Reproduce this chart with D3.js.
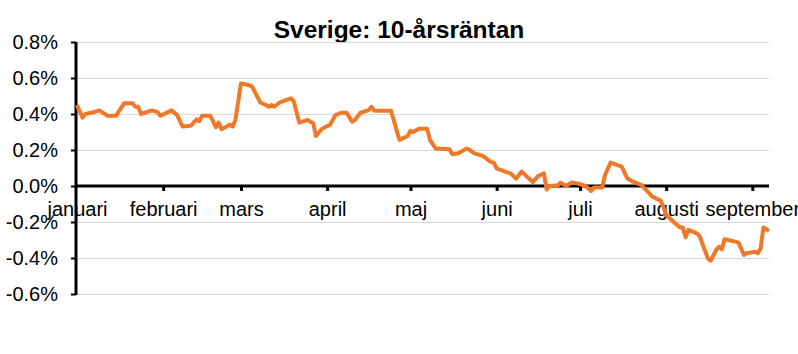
<!DOCTYPE html>
<html>
<head>
<meta charset="utf-8">
<script src="https://cdn.jsdelivr.net/npm/d3@7"></script>
<style>
  body { margin: 0; background: #fff; }
  text { font-family: "Liberation Sans", Arial, sans-serif; }
</style>
</head>
<body>
<div id="chart"></div>
<script>
// Sverige 10-årsränta, 2019 (%)
var dates = [
  "2019-01-01","2019-01-03","2019-01-04","2019-01-07","2019-01-09","2019-01-12","2019-01-15","2019-01-18",
  "2019-01-21","2019-01-22","2019-01-23","2019-01-24","2019-01-28","2019-01-30","2019-01-31","2019-02-04",
  "2019-02-06","2019-02-08","2019-02-11","2019-02-13","2019-02-14","2019-02-15","2019-02-18","2019-02-20",
  "2019-02-21","2019-02-22","2019-02-25","2019-02-26","2019-02-27","2019-03-01","2019-03-04","2019-03-05",
  "2019-03-08","2019-03-10","2019-03-11","2019-03-12","2019-03-13","2019-03-15","2019-03-19","2019-03-20",
  "2019-03-22","2019-03-25","2019-03-27","2019-03-28","2019-03-30","2019-04-01","2019-04-02","2019-04-04",
  "2019-04-06","2019-04-08","2019-04-10","2019-04-11","2019-04-13","2019-04-16","2019-04-17","2019-04-18",
  "2019-04-24","2019-04-27","2019-04-30","2019-05-01","2019-05-02","2019-05-04","2019-05-07","2019-05-08",
  "2019-05-10","2019-05-15","2019-05-16","2019-05-18","2019-05-21","2019-05-22","2019-05-24","2019-05-27",
  "2019-05-30","2019-05-31","2019-06-01","2019-06-05","2019-06-06","2019-06-08","2019-06-10","2019-06-14",
  "2019-06-16","2019-06-18","2019-06-19","2019-06-20","2019-06-23","2019-06-24","2019-06-26","2019-06-28",
  "2019-07-01","2019-07-03","2019-07-05","2019-07-06","2019-07-09","2019-07-10","2019-07-12","2019-07-16",
  "2019-07-18","2019-07-20","2019-07-23","2019-07-25","2019-07-27","2019-07-30","2019-07-31","2019-08-01",
  "2019-08-04","2019-08-06","2019-08-07","2019-08-08","2019-08-09","2019-08-12","2019-08-13","2019-08-16",
  "2019-08-17","2019-08-19","2019-08-20","2019-08-21","2019-08-22","2019-08-26","2019-08-27","2019-08-29",
  "2019-08-30","2019-09-02","2019-09-03","2019-09-04","2019-09-05","2019-09-07"
]
var rates = [
  0.45,0.38,0.40,0.41,0.42,0.39,0.39,0.46,
  0.46,0.44,0.44,0.40,0.42,0.41,0.39,0.42,
  0.395,0.33,0.335,0.37,0.36,0.39,0.39,0.326,
  0.352,0.315,0.34,0.33,0.367,0.57,0.56,0.552,
  0.463,0.45,0.44,0.45,0.44,0.465,0.487,0.47,
  0.352,0.367,0.348,0.278,0.315,0.333,0.339,0.394,
  0.407,0.407,0.357,0.367,0.407,0.422,0.44,0.418,
  0.418,0.256,0.278,0.307,0.30,0.318,0.318,0.256,
  0.209,0.204,0.178,0.181,0.207,0.204,0.181,0.167,
  0.133,0.13,0.098,0.074,0.07,0.041,0.08,0.022,
  0.056,0.07,-0.019,0.0,0.004,0.019,0.0,0.02,
  0.011,0.0,-0.028,-0.008,-0.009,0.061,0.13,0.107,
  0.043,0.024,0.006,-0.026,-0.059,-0.081,-0.115,-0.161,
  -0.204,-0.23,-0.23,-0.285,-0.244,-0.263,-0.278,-0.402,
  -0.415,-0.356,-0.337,-0.352,-0.296,-0.309,-0.315,-0.383,
  -0.374,-0.365,-0.374,-0.346,-0.23,-0.25
]
var monthStarts = ["2019-01-01","2019-02-01","2019-03-01","2019-04-01","2019-05-01","2019-06-01","2019-07-01","2019-08-01","2019-09-01"]
var monthNames = ["januari","februari","mars","april","maj","juni","juli","augusti","september"]
var yTicks = [0.8, 0.6, 0.4, 0.2, 0.0, -0.2, -0.4, -0.6]

var parse = d3.timeParse("%Y-%m-%d")
var W = 798, H = 354

var svg = d3.select("#chart").append("svg")
    .attr("width", W)
    .attr("height", H)

var x = d3.scaleTime()
    .domain([parse("2019-01-01"), parse("2019-09-07")])
    .range([77, 769])
var y = d3.scaleLinear()
    .domain([-0.6, 0.8])
    .range([294, 42])

svg.append("text")
    .attr("x", 399)
    .attr("y", 38)
    .attr("text-anchor", "middle")
    .attr("font-size", 24.5)
    .attr("font-weight", "bold")
    .text("Sverige: 10-årsräntan")

// gridlines
svg.append("g").selectAll("line")
    .data(yTicks)
    .join("line")
    .attr("x1", 76)
    .attr("x2", 769)
    .attr("y1", d => Math.round(y(d)) + 0.5)
    .attr("y2", d => Math.round(y(d)) + 0.5)
    .attr("stroke", "#d9d9d9")
    .attr("stroke-width", 1)

// y axis
var yAxis = svg.append("g")
    .attr("transform", "translate(76,0)")
    .call(d3.axisLeft(y).tickValues(yTicks).tickSize(5).tickPadding(13)
        .tickFormat(d => d3.format(".1f")(d).replace("−", "-") + "%"))
yAxis.select(".domain").attr("stroke-width", 3).attr("d", "M0," + y(0.8) + "V" + (y(-0.6) + 1))
yAxis.selectAll(".tick line").attr("stroke-width", 2)
yAxis.selectAll("text")
    .attr("font-size", 20)
    .attr("font-family", "'Liberation Sans', Arial, sans-serif")
    .attr("fill", "#000")

// x axis at zero
var xAxis = svg.append("g")
    .attr("transform", "translate(0," + y(0) + ")")
    .call(d3.axisBottom(x).tickValues(monthStarts.map(parse)).tickSize(5).tickPadding(11)
        .tickFormat((d, i) => monthNames[i]))
xAxis.select(".domain").attr("stroke-width", 3).attr("d", "M76,0H769")
xAxis.selectAll(".tick line").attr("stroke-width", 3)
xAxis.selectAll(".tick").filter((d, i) => i === 0).select("line").remove()
xAxis.selectAll("text")
    .attr("font-size", 20)
    .attr("font-family", "'Liberation Sans', Arial, sans-serif")
    .attr("fill", "#000")

// the rate line
var pts = dates.map((d, i) => ({ date: parse(d), v: rates[i] }))
svg.append("path")
    .datum(pts)
    .attr("fill", "none")
    .attr("stroke", "#F07828")
    .attr("stroke-width", 4)
    .attr("stroke-linejoin", "round")
    .attr("d", d3.line().x(d => x(d.date)).y(d => y(d.v)))
</script>
</body>
</html>
